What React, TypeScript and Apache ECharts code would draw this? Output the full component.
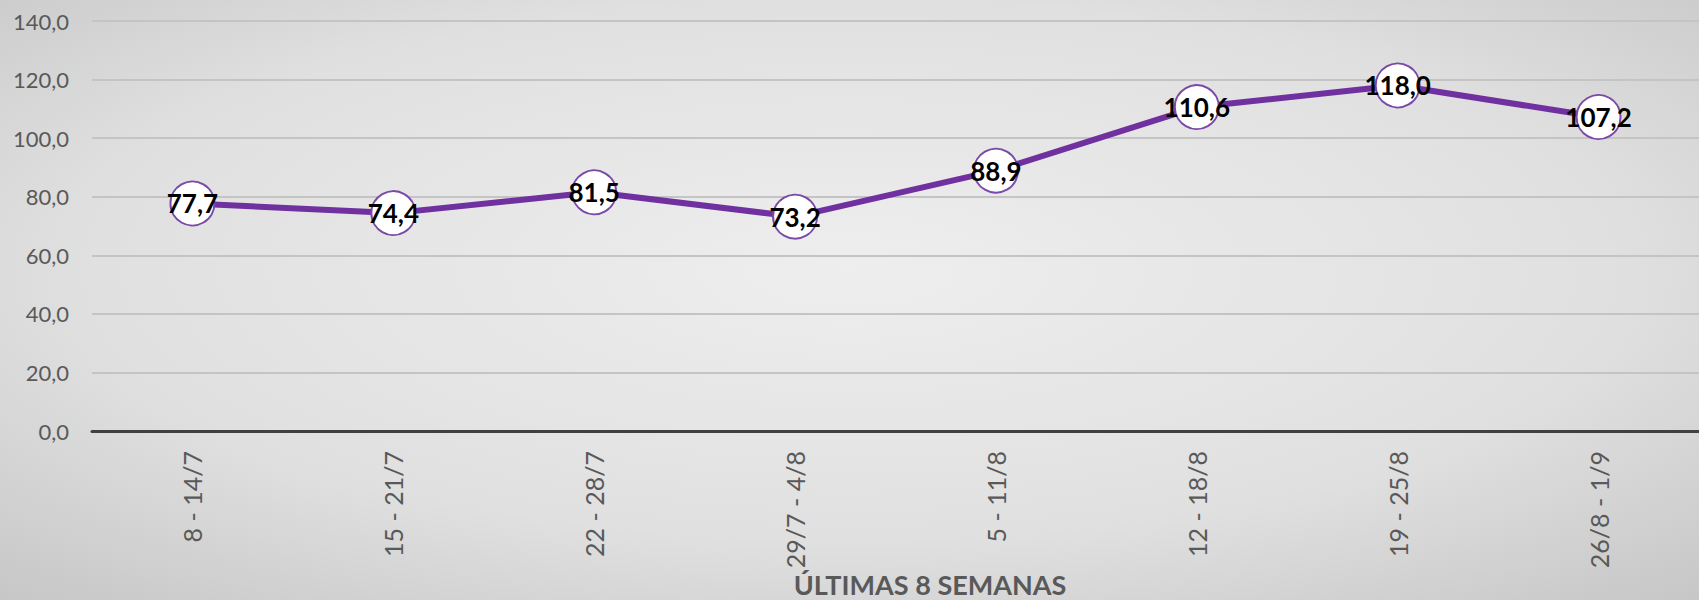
import React, { useEffect, useRef } from "react";
import * as echarts from "echarts";

const categories = ["8 - 14/7", "15 - 21/7", "22 - 28/7", "29/7 - 4/8", "5 - 11/8", "12 - 18/8", "19 - 25/8", "26/8 - 1/9"];
const values = [77.7, 74.4, 81.5, 73.2, 88.9, 110.6, 118.0, 107.2];
const yTicks = { min: 0, max: 140, interval: 20 };
const axisTitle = "ÚLTIMAS 8 SEMANAS";

const fmt = (v: number) => v.toFixed(1).replace(".", ",");

export default function App() {
  const ref = useRef<HTMLDivElement>(null);
  useEffect(() => {
    document.body.style.margin = "0";
    const chart = echarts.init(ref.current!, undefined, { renderer: "svg" });
    chart.setOption({
      animation: false,
      backgroundColor: {
        type: "radial",
        x: 0.5,
        y: 0.45,
        r: 0.75,
        colorStops: [
          { offset: 0, color: "#eeeeee" },
          { offset: 0.6, color: "#e0e0e0" },
          { offset: 1, color: "#c6c6c6" },
        ],
      },
      grid: { left: 92, right: 0, top: 21, bottom: 169, containLabel: false },
      xAxis: {
        type: "category",
        data: categories,
        boundaryGap: true,
        axisLine: { lineStyle: { color: "#404040", width: 3 } },
        axisTick: { show: false },
        axisLabel: {
          rotate: 90,
          margin: 20,
          color: "#595959",
          fontSize: 25,
          fontFamily: "Lato",
        },
      },
      yAxis: {
        type: "value",
        min: yTicks.min,
        max: yTicks.max,
        interval: yTicks.interval,
        axisLine: { show: false },
        axisTick: { show: false },
        splitLine: { lineStyle: { color: "#c4c4c4", width: 2 } },
        axisLabel: {
          margin: 23,
          color: "#595959",
          fontSize: 22,
          fontFamily: "Lato",
          formatter: (v: number) => fmt(v),
        },
      },
      graphic: [
        {
          type: "text",
          x: 930,
          y: 598,
          style: {
            text: axisTitle,
            fill: "#595959",
            font: "bold 27px Lato",
            textAlign: "center",
            textVerticalAlign: "bottom",
          },
        },
      ],
      series: [
        {
          type: "line",
          data: values,
          lineStyle: { color: "#7030A0", width: 6 },
          itemStyle: { color: "#ffffff", borderColor: "#7a4aa8", borderWidth: 2 },
          symbol: "circle",
          symbolSize: 44,
          label: {
            show: true,
            position: "inside",
            color: "#000000",
            fontSize: 26,
            fontWeight: "bold",
            fontFamily: "Lato",
            formatter: (p: any) => fmt(p.value),
          },
          z: 3,
        },
      ],
    });
    return () => chart.dispose();
  }, []);
  return <div ref={ref} style={{ width: 1699, height: 600 }} />;
}
